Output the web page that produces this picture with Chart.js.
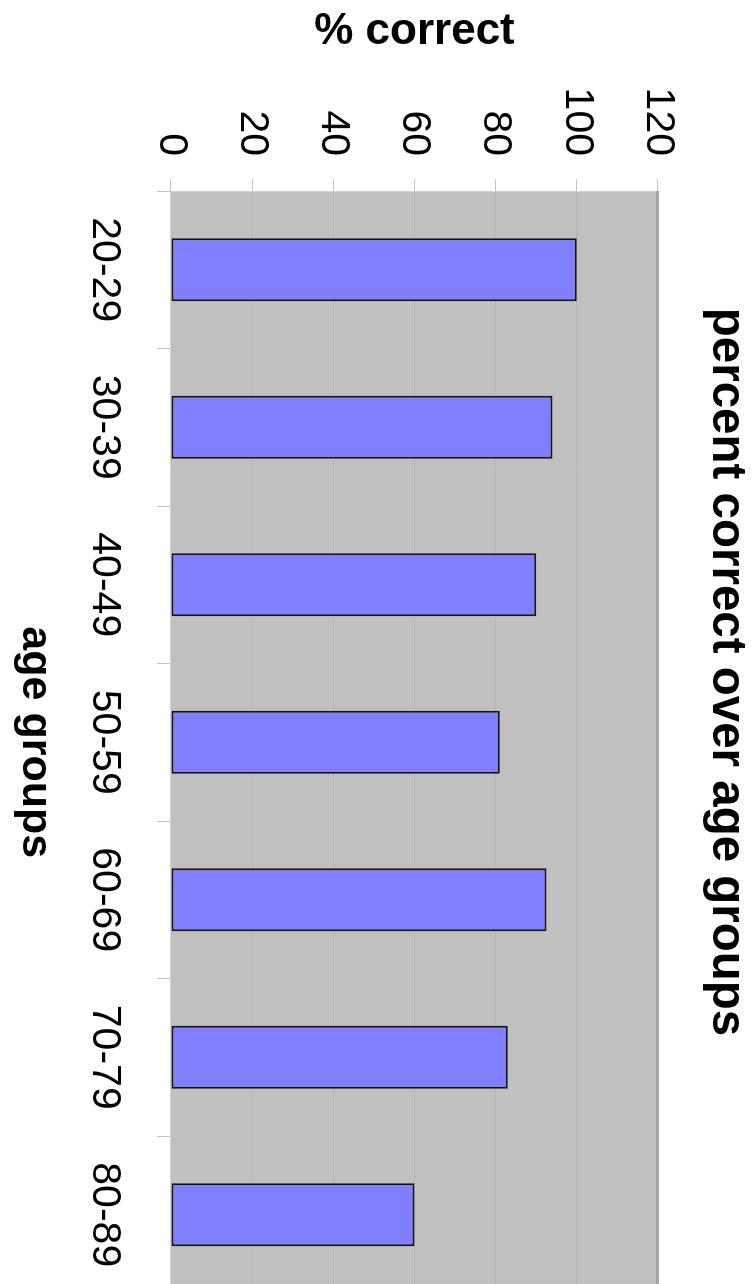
<!DOCTYPE html>
<html>
<head>
<meta charset="utf-8">
<title>percent correct over age groups</title>
<script src="https://cdn.jsdelivr.net/npm/chart.js@4.4.1/dist/chart.umd.min.js"></script>
<style>
  html, body { margin: 0; padding: 0; background: #ffffff; }
  body { width: 756px; height: 1284px; overflow: hidden; position: relative; }
  /* the chart is laid out landscape and turned a quarter clockwise onto the page */
  #frame {
    position: absolute; left: 0; top: 0;
    width: 1344px; height: 756px;
    transform-origin: 0 0;
    transform: translate(756px, 0) rotate(90deg);
  }
  #chart { display: block; width: 1344px; height: 756px; }
</style>
</head>
<body>
<div id="frame"><canvas id="chart" width="1344" height="756"></canvas></div>
<script>
const ageGroups = ['20-29', '30-39', '40-49', '50-59', '60-69', '70-79', '80-89'];
const percentCorrect = [100, 94, 90, 81, 92.5, 83, 60];
const percentTicks = [0, 20, 40, 60, 80, 100, 120];

const FONT = "'Liberation Sans', Arial, Helvetica, sans-serif";

// grey plot background and the darker frame line along the far edge of the value range
const plotFrame = {
  id: 'plotFrame',
  beforeDraw(chart) {
    const { ctx, chartArea: a } = chart;
    ctx.save();
    ctx.fillStyle = '#c0c0c0';
    ctx.fillRect(a.left, a.top, a.right - a.left, a.bottom - a.top);
    ctx.restore();
  },
  afterDatasetsDraw(chart) {
    const { ctx, chartArea: a } = chart;
    ctx.save();
    ctx.strokeStyle = '#a6a6a6';
    ctx.lineWidth = 3;
    ctx.beginPath();
    ctx.moveTo(a.left, a.top + 0.5);
    ctx.lineTo(a.right, a.top + 0.5);
    ctx.stroke();
    ctx.restore();
  }
};

new Chart(document.getElementById('chart'), {
  type: 'bar',
  data: {
    labels: ageGroups,
    datasets: [{
      label: '% correct',
      data: percentCorrect,
      backgroundColor: '#8080ff',
      borderColor: '#141414',
      borderWidth: 2,
      borderSkipped: false,
      barPercentage: 0.4,
      categoryPercentage: 1.0
    }]
  },
  options: {
    responsive: false,
    animation: false,
    devicePixelRatio: 1,
    layout: { padding: 0 },
    plugins: {
      legend: { display: false },
      tooltip: { enabled: false },
      title: {
        display: true,
        text: 'percent correct over age groups',
        color: '#000000',
        font: { family: FONT, size: 47.5, weight: 'bold', lineHeight: 1.2 },
        padding: { top: 1.3, bottom: 39.7 }
      }
    },
    scales: {
      x: {
        type: 'category',
        offset: true,
        grid: {
          offset: true,
          drawOnChartArea: false,
          drawTicks: true,
          tickLength: 14,
          tickColor: '#c4c4c4',
          tickWidth: 1
        },
        border: { display: true, color: '#d2d2d2', width: 1 },
        ticks: {
          color: '#000000',
          font: { family: FONT, size: 41, lineHeight: 1.2 },
          padding: 28,
          maxRotation: 0,
          minRotation: 0,
          autoSkip: false
        },
        title: {
          display: true,
          text: 'age groups',
          color: '#000000',
          font: { family: FONT, size: 43, weight: 'bold', lineHeight: 1.2 },
          padding: { top: 0, bottom: 9 }
        },
        afterFit(scale) { scale.height = 171; }
      },
      y: {
        type: 'linear',
        min: percentTicks[0],
        max: percentTicks[percentTicks.length - 1],
        afterBuildTicks(scale) {
          scale.ticks = percentTicks.map(v => ({ value: v }));
        },
        grid: {
          color: '#b5b5b5',
          lineWidth: 1,
          drawTicks: true,
          tickLength: 12,
          tickColor: '#c4c4c4'
        },
        border: { display: true, color: '#d2d2d2', width: 1 },
        ticks: {
          color: '#000000',
          font: { family: FONT, size: 41, lineHeight: 1.2 },
          padding: 23
        },
        title: {
          display: true,
          text: '% correct',
          color: '#000000',
          font: { family: FONT, size: 44, weight: 'bold', lineHeight: 1.2 },
          padding: { top: 5, bottom: 0 }
        },
        afterFit(scale) { scale.width = 191; }
      },
      // empty margin on the far side of the plot, kept as a blank axis
      margin: {
        type: 'linear',
        position: 'right',
        display: true,
        grid: { display: false, drawTicks: false },
        border: { display: false },
        ticks: { display: false },
        title: { display: false },
        afterFit(scale) { scale.width = 50.5; }
      }
    }
  },
  plugins: [plotFrame]
});
</script>
</body>
</html>
